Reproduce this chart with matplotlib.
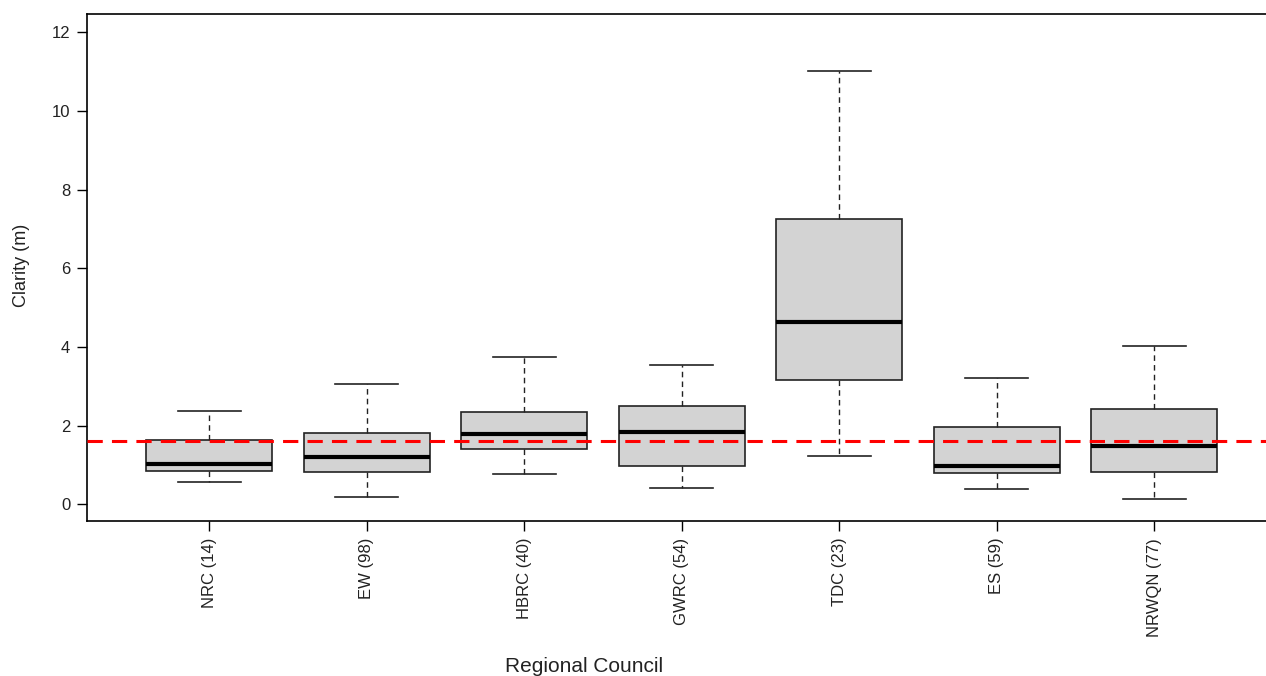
import matplotlib
matplotlib.use("Agg")
import matplotlib.pyplot as plt

plt.rcParams['font.family'] = ['Liberation Sans', 'DejaVu Sans']

councils = ["NRC (14)", "EW (98)", "HBRC (40)", "GWRC (54)", "TDC (23)", "ES (59)", "NRWQN (77)"]
whisker_low = [0.56, 0.18, 0.76, 0.41, 1.22, 0.38, 0.13]
q1 = [0.84, 0.81, 1.40, 0.97, 3.15, 0.79, 0.81]
median = [1.02, 1.19, 1.78, 1.83, 4.63, 0.97, 1.47]
q3 = [1.63, 1.80, 2.34, 2.49, 7.25, 1.96, 2.42]
whisker_high = [2.36, 3.05, 3.74, 3.53, 11.01, 3.20, 4.02]
guideline = 1.6

stats = []
for i, name in enumerate(councils):
    stats.append({"label": name, "whislo": whisker_low[i], "q1": q1[i], "med": median[i],
                  "q3": q3[i], "whishi": whisker_high[i], "fliers": []})

fig = plt.figure(figsize=(12.66, 6.76), dpi=100)
# right edge of the plot box falls just outside the picture, as in the original
ax = fig.add_axes([0.0687, 0.229, 0.94, 0.75])

ax.bxp(stats, positions=range(1, len(councils) + 1), widths=0.8, capwidths=0.4,
       showfliers=False, patch_artist=True,
       boxprops=dict(facecolor="#d3d3d3", edgecolor="#222222", linewidth=1.2),
       medianprops=dict(color="black", linewidth=3, solid_capstyle="butt"),
       whiskerprops=dict(color="#222222", linewidth=1, linestyle=(0, (4, 3))),
       capprops=dict(color="#222222", linewidth=1.2))

ax.axhline(guideline, color="red", linestyle=(0, (5, 3)), linewidth=2.2, zorder=5)

ax.set_xlim(0.225, 7.78)
ax.set_ylim(-0.43, 12.46)
ax.set_yticks([0, 2, 4, 6, 8, 10, 12])
ax.set_xticks(range(1, len(councils) + 1))
ax.set_xticklabels(councils, rotation=90)
ax.tick_params(axis="both", direction="out", length=7, width=1, labelsize=12, pad=5,
               labelcolor="#222222")
for s in ax.spines.values():
    s.set_linewidth(1.2)

ax.set_ylabel("Clarity (m)", fontsize=13, color="#222222")
ax.yaxis.set_label_coords(-0.048, 0.505)
ax.set_xlabel("Regional Council", fontsize=15, color="#222222")
ax.xaxis.set_label_coords(0.418, -0.268)

fig.savefig("out.png", dpi=100)
